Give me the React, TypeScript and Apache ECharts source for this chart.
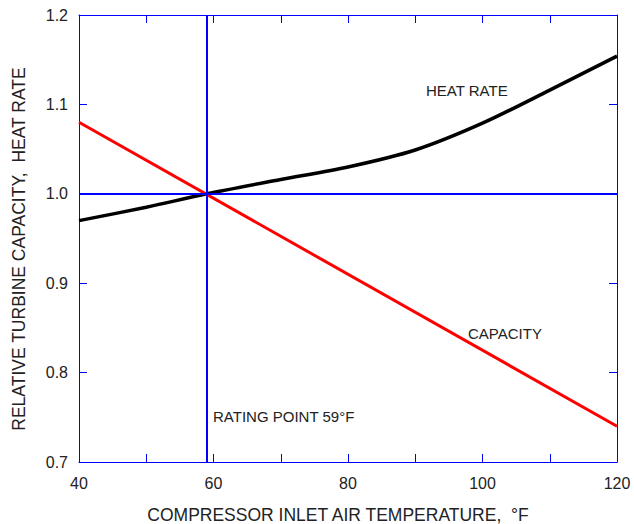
import React, { useEffect, useRef } from "react";
import * as echarts from "echarts";

const temperatures = [40, 50, 59, 70, 80, 90, 100, 110, 120];
const heatRate = [0.97, 0.985, 1.0, 1.016, 1.03, 1.049, 1.079, 1.116, 1.154];
const capacityTemps = [40, 120];
const capacity = [1.08, 0.74];
const ratingTemp = 59;
const ratingValue = 1.0;

const FONT = "'Liberation Sans', Arial, sans-serif";
const BLUE = "#0000ff";
const TEXT = "#222222";

export default function App() {
  const ref = useRef<HTMLDivElement>(null);
  useEffect(() => {
    if (!ref.current) return;
    const chart = echarts.init(ref.current, undefined, { renderer: "svg" });
    const tickCommon = {
      axisLine: { show: true, onZero: false, lineStyle: { color: BLUE, width: 1 } },
      axisTick: { show: true, inside: true, length: 8, lineStyle: { color: BLUE, width: 1 } },
      splitLine: { show: false },
    };
    chart.setOption({
      animation: false,
      backgroundColor: "#ffffff",
      grid: { left: 79, top: 15, right: 17, bottom: 62, containLabel: false },
      xAxis: [
        {
          type: "value",
          position: "bottom",
          min: 40,
          max: 120,
          interval: 10,
          ...tickCommon,
          axisLabel: {
            color: TEXT,
            fontSize: 16,
            fontFamily: FONT,
            margin: 13,
            formatter: (v: number) => (v % 20 === 0 ? String(v) : ""),
          },
        },
        {
          type: "value",
          position: "top",
          min: 40,
          max: 120,
          interval: 10,
          ...tickCommon,
          axisLabel: { show: false },
        },
      ],
      yAxis: [
        {
          type: "value",
          position: "left",
          min: 0.7,
          max: 1.2,
          interval: 0.1,
          ...tickCommon,
          axisLabel: {
            color: TEXT,
            fontSize: 16,
            fontFamily: FONT,
            margin: 11,
            formatter: (v: number) => v.toFixed(1),
          },
        },
        {
          type: "value",
          position: "right",
          min: 0.7,
          max: 1.2,
          interval: 0.1,
          ...tickCommon,
          axisLabel: { show: false },
        },
      ],
      series: [
        {
          type: "line",
          data: [],
          z: 1,
          markLine: {
            silent: true,
            symbol: "none",
            label: { show: false },
            lineStyle: { color: BLUE, width: 2, type: "solid" },
            data: [{ xAxis: ratingTemp }, { yAxis: ratingValue }],
          },
        },
        {
          name: "HEAT RATE",
          type: "line",
          z: 3,
          smooth: 0.3,
          showSymbol: false,
          lineStyle: { color: "#000000", width: 3.5 },
          data: temperatures.map((t, i) => [t, heatRate[i]]),
        },
        {
          name: "CAPACITY",
          type: "line",
          z: 3,
          showSymbol: false,
          lineStyle: { color: "#ff0000", width: 3 },
          data: capacityTemps.map((t, i) => [t, capacity[i]]),
        },
      ],
      graphic: [
        {
          type: "text",
          style: {
            text: "COMPRESSOR INLET AIR TEMPERATURE,  °F",
            fill: TEXT,
            font: `17.5px ${FONT}`,
            x: 338,
            y: 515,
            align: "center",
            verticalAlign: "middle",
          },
        },
        {
          type: "text",
          rotation: Math.PI / 2,
          x: 19,
          y: 249,
          style: {
            text: "RELATIVE TURBINE CAPACITY,  HEAT RATE",
            fill: TEXT,
            font: `17.5px ${FONT}`,
            x: 0,
            y: 0,
            align: "center",
            verticalAlign: "middle",
          },
        },
        {
          type: "text",
          style: {
            text: "HEAT RATE",
            fill: TEXT,
            font: `15px ${FONT}`,
            x: 426,
            y: 90,
            verticalAlign: "middle",
          },
        },
        {
          type: "text",
          style: {
            text: "CAPACITY",
            fill: TEXT,
            font: `15px ${FONT}`,
            x: 468,
            y: 333,
            verticalAlign: "middle",
          },
        },
        {
          type: "text",
          style: {
            text: "RATING POINT 59°F",
            fill: TEXT,
            font: `15px ${FONT}`,
            x: 213,
            y: 416,
            verticalAlign: "middle",
          },
        },
      ],
    });
    return () => chart.dispose();
  }, []);
  return (
    <div
      ref={ref}
      style={{ position: "fixed", left: 0, top: 0, width: 634, height: 524, background: "#fff" }}
    />
  );
}
